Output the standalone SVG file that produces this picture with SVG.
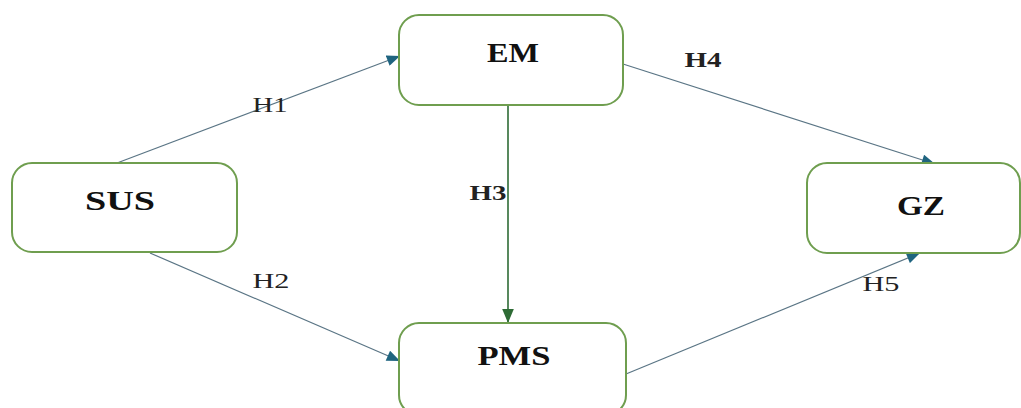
<svg xmlns="http://www.w3.org/2000/svg" width="1021" height="408" viewBox="0 0 1021 408">
<style>
.node{fill:#fff;stroke:#6f9e4f;stroke-width:2}
.nt{font-family:"Liberation Serif",serif;font-weight:bold;font-size:27px;fill:#111;text-anchor:middle}
.lb{font-family:"Liberation Serif",serif;font-size:21px;fill:#222;text-anchor:middle}
.lbb{font-weight:bold}
.edge{fill:none;stroke:#5a7585;stroke-width:1.2}
.edge.g{stroke:#2e6b35;stroke-width:1.6}
</style>
<defs>
<marker id="ab" viewBox="0 0 12 10" refX="12" refY="5" markerWidth="14" markerHeight="11" markerUnits="userSpaceOnUse" orient="auto"><path d="M0,0 L12,5 L0,10 z" fill="#1f6480"/></marker>
<marker id="ag" viewBox="0 0 12 10" refX="12" refY="5" markerWidth="14" markerHeight="12" markerUnits="userSpaceOnUse" orient="auto"><path d="M0,0 L12,5 L0,10 z" fill="#2e6b35"/></marker>
</defs>
<rect width="1021" height="408" fill="#fff"/>
<g id="connectors">
<line class="edge" x1="117" y1="163" x2="400" y2="56" marker-end="url(#ab)"/>
<line class="edge" x1="150" y1="253" x2="400" y2="361" marker-end="url(#ab)"/>
<line class="edge g" x1="508" y1="105" x2="508" y2="323" marker-end="url(#ag)"/>
<line class="edge" x1="623" y1="64" x2="935" y2="164" marker-end="url(#ab)"/>
<line class="edge" x1="626" y1="374" x2="920" y2="253" marker-end="url(#ab)"/>
<text class="lb" x="270" y="112" textLength="35" lengthAdjust="spacingAndGlyphs">H1</text>
<text class="lb" x="271" y="288" textLength="37" lengthAdjust="spacingAndGlyphs">H2</text>
<text class="lb lbb" x="488" y="200" textLength="37" lengthAdjust="spacingAndGlyphs">H3</text>
<text class="lb lbb" x="703" y="67" textLength="37" lengthAdjust="spacingAndGlyphs">H4</text>
<text class="lb" x="881" y="291" textLength="37" lengthAdjust="spacingAndGlyphs">H5</text>
</g>
<g id="SUS"><rect class="node" x="12" y="163" width="225" height="89" rx="20"/><text class="nt" x="120" y="210" textLength="70" lengthAdjust="spacingAndGlyphs">SUS</text></g>
<g id="EM"><rect class="node" x="399" y="15" width="224" height="90" rx="20"/><text class="nt" x="513" y="62" textLength="52" lengthAdjust="spacingAndGlyphs">EM</text></g>
<g id="PMS"><rect class="node" x="399" y="323" width="227" height="92" rx="20"/><text class="nt" x="514" y="365" textLength="73" lengthAdjust="spacingAndGlyphs">PMS</text></g>
<g id="GZ"><rect class="node" x="807" y="163" width="213" height="90" rx="20"/><text class="nt" x="921" y="215" textLength="48" lengthAdjust="spacingAndGlyphs">GZ</text></g>
</svg>
